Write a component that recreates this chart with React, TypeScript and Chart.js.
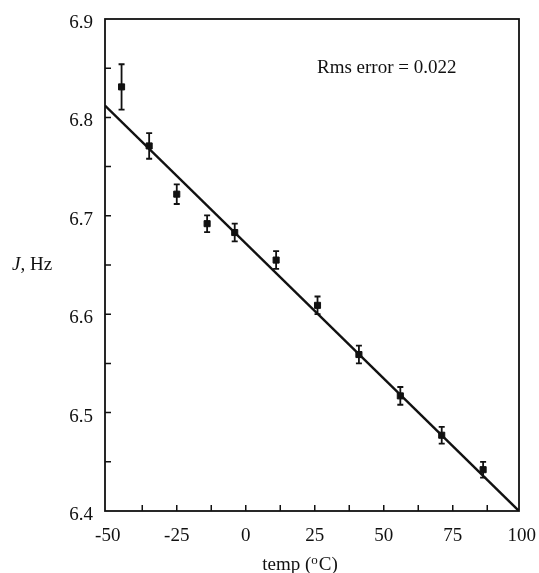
import React, { useEffect, useRef } from "react";
import { Chart, registerables } from "chart.js";

Chart.register(...registerables);

// Measured data (temperature in °C, coupling constant J in Hz)
const temps = [-45, -35, -25, -14, -4, 11, 26, 41, 56, 71, 86];
const jValues = [6.831, 6.771, 6.722, 6.692, 6.683, 6.655, 6.609, 6.559, 6.517, 6.477, 6.442];
const jErrors = [0.023, 0.013, 0.01, 0.0085, 0.009, 0.009, 0.009, 0.009, 0.009, 0.0085, 0.008];

// Least-squares fit line end points
const fitTemps = [-51, 99];
const fitValues = [6.812, 6.4];

// Axis ticks and labels
const xTickLabels = [-50, -25, 0, 25, 50, 75, 100];
const xTickMarks = [-37.5, -25, -12.5, 0, 12.5, 25, 37.5, 50, 62.5, 75, 87.5];
const yTickLabels = [6.4, 6.5, 6.6, 6.7, 6.8, 6.9];
const yTickMarks = [6.45, 6.5, 6.55, 6.6, 6.65, 6.7, 6.75, 6.8, 6.85];

const INK = "#111";
const SERIF = '"Liberation Serif", "DejaVu Serif", serif';
const FS = 19;

const framePlugin = {
  id: "framePlugin",
  beforeDatasetsDraw(chart: any) {
    const { ctx, scales } = chart;
    const x = scales.x;
    const y = scales.y;
    ctx.save();
    ctx.strokeStyle = INK;
    ctx.lineWidth = 1.8;
    for (let i = 0; i < temps.length; i++) {
      const px = x.getPixelForValue(temps[i]);
      const y1 = y.getPixelForValue(jValues[i] + jErrors[i]);
      const y2 = y.getPixelForValue(jValues[i] - jErrors[i]);
      ctx.beginPath();
      ctx.moveTo(px, y1);
      ctx.lineTo(px, y2);
      ctx.moveTo(px - 3, y1);
      ctx.lineTo(px + 3, y1);
      ctx.moveTo(px - 3, y2);
      ctx.lineTo(px + 3, y2);
      ctx.stroke();
    }
    ctx.restore();
  },
  afterDraw(chart: any) {
    const { ctx, chartArea, scales } = chart;
    const { left, right, top, bottom } = chartArea;
    const x = scales.x;
    const y = scales.y;
    ctx.save();
    ctx.strokeStyle = INK;
    ctx.lineWidth = 1.8;
    ctx.strokeRect(left, top, right - left, bottom - top);

    // inward tick marks
    ctx.lineWidth = 1.5;
    ctx.beginPath();
    for (const v of xTickMarks) {
      const px = x.getPixelForValue(v);
      ctx.moveTo(px, bottom);
      ctx.lineTo(px, bottom - 6);
    }
    for (const v of yTickMarks) {
      const py = y.getPixelForValue(v);
      ctx.moveTo(left, py);
      ctx.lineTo(left + 6, py);
    }
    ctx.stroke();

    ctx.fillStyle = INK;
    ctx.font = `${FS}px ${SERIF}`;
    ctx.textBaseline = "middle";

    // x tick labels
    ctx.textAlign = "center";
    for (const v of xTickLabels) {
      ctx.fillText(String(v), x.getPixelForValue(v), bottom + 25);
    }

    // y tick labels
    ctx.textAlign = "right";
    for (const v of yTickLabels) {
      ctx.fillText(v.toFixed(1), left - 12, y.getPixelForValue(v) + 4);
    }

    // y axis title: "J, Hz" with italic J
    ctx.textAlign = "left";
    const yTitleY = y.getPixelForValue(6.65);
    ctx.font = `italic ${FS}px ${SERIF}`;
    ctx.fillText("J", 12, yTitleY);
    const jw = ctx.measureText("J").width;
    ctx.font = `${FS}px ${SERIF}`;
    ctx.fillText(", Hz", 12 + jw, yTitleY);

    // x axis title: "temp (°C)" with superscript o
    const part1 = "temp (";
    const part2 = "o";
    const part3 = "C)";
    ctx.font = `${FS}px ${SERIF}`;
    const w1 = ctx.measureText(part1).width;
    const w3 = ctx.measureText(part3).width;
    ctx.font = `13px ${SERIF}`;
    const w2 = ctx.measureText(part2).width + 1;
    const total = w1 + w2 + w3;
    const cx = (left + right) / 2 - 12;
    let sx = cx - total / 2;
    const ty = bottom + 54;
    ctx.font = `${FS}px ${SERIF}`;
    ctx.fillText(part1, sx, ty);
    sx += w1;
    ctx.font = `13px ${SERIF}`;
    ctx.fillText(part2, sx, ty - 4);
    sx += w2;
    ctx.font = `${FS}px ${SERIF}`;
    ctx.fillText(part3, sx, ty);

    // annotation
    ctx.font = `${FS}px ${SERIF}`;
    ctx.fillText("Rms error = 0.022", 317, 68);

    ctx.restore();
  },
};

export default function App() {
  const canvasRef = useRef<HTMLCanvasElement | null>(null);

  useEffect(() => {
    if (!canvasRef.current) return;
    const chart = new Chart(canvasRef.current, {
      type: "scatter",
      data: {
        datasets: [
          {
            label: "fit",
            data: fitTemps.map((t, i) => ({ x: t, y: fitValues[i] })),
            showLine: true,
            borderColor: INK,
            borderWidth: 2.4,
            pointRadius: 0,
            fill: false,
          },
          {
            label: "J",
            data: temps.map((t, i) => ({ x: t, y: jValues[i] })),
            pointStyle: "rect",
            pointRadius: 4.3,
            pointBackgroundColor: INK,
            pointBorderColor: INK,
            pointBorderWidth: 1,
            showLine: false,
          },
        ],
      },
      options: {
        animation: false,
        responsive: false,
        devicePixelRatio: 1,
        layout: { padding: { left: 105, right: 20, top: 19, bottom: 62 } },
        plugins: {
          legend: { display: false },
          tooltip: { enabled: false },
        },
        scales: {
          x: { type: "linear", min: -51, max: 99, display: false },
          y: { type: "linear", min: 6.4, max: 6.9, display: false },
        },
      },
      plugins: [framePlugin],
    });
    return () => chart.destroy();
  }, []);

  return (
    <div
      style={{
        position: "fixed",
        left: 0,
        top: 0,
        width: 539,
        height: 573,
        background: "#fff",
      }}
    >
      <canvas ref={canvasRef} width={539} height={573} />
    </div>
  );
}
